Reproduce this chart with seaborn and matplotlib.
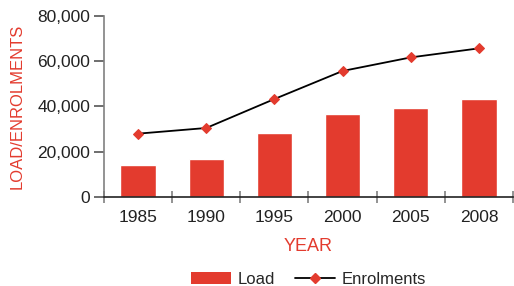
import numpy as np
import matplotlib
matplotlib.use("Agg")
import matplotlib.pyplot as plt
from matplotlib.patches import Patch
from matplotlib.lines import Line2D
from matplotlib.ticker import FuncFormatter
import seaborn as sns

# data
years = ["1985", "1990", "1995", "2000", "2005", "2008"]
load = [14100, 16800, 28300, 36700, 39300, 43300]
enrolments = [28000, 30500, 43300, 55700, 61700, 65700]

RED = "#e33b2e"

sns.set_style("white")
plt.rcParams["font.family"] = ["Liberation Sans", "DejaVu Sans"]

fig = plt.figure(figsize=(5.14, 2.86), dpi=100)
ax = fig.add_axes([104 / 514, 1 - 197 / 286, 409 / 514, 181 / 286])

pos = np.arange(len(years))
sns.barplot(x=pos, y=load, color=RED, width=0.52, saturation=1, ax=ax)
sns.lineplot(x=pos, y=enrolments, color="black", lw=1.3, marker="D",
             markersize=5.5, markerfacecolor=RED, markeredgecolor=RED, ax=ax)

ax.set_xlim(-0.5, len(years) - 0.5)
ax.set_ylim(0, 80000)
ax.set_yticks([0, 20000, 40000, 60000, 80000])
ax.yaxis.set_major_formatter(FuncFormatter(lambda v, _: f"{int(v):,}"))
ax.set_xticks(pos)
ax.set_xticklabels(years)
ax.set_xticks(np.arange(-0.5, len(years)), minor=True)

for s in ["top", "right"]:
    ax.spines[s].set_visible(False)
ax.spines["left"].set_color("#808080")
ax.spines["left"].set_linewidth(1.2)
ax.spines["bottom"].set_color("#222222")
ax.spines["bottom"].set_linewidth(1.2)

ax.tick_params(axis="y", which="major", length=7, width=1.2, color="#555555",
               direction="out", labelsize=12.5, labelcolor="#222222", left=True, pad=3)
ax.tick_params(axis="x", which="major", length=0, labelsize=12.5,
               labelcolor="#222222", pad=9)
ax.tick_params(axis="x", which="minor", length=9, width=1.2, color="#808080",
               direction="inout", bottom=True)

ax.set_xlabel("YEAR", color=RED, fontsize=13, labelpad=10)
ax.set_ylabel("LOAD/ENROLMENTS", color=RED, fontsize=12)
ax.yaxis.set_label_coords(-0.195, 0.5)

handles = [
    Patch(facecolor=RED, edgecolor="none", label="Load"),
    Line2D([0], [0], color="black", lw=1.3, marker="D", markersize=5.5,
           markerfacecolor=RED, markeredgecolor=RED, label="Enrolments"),
]
fig.legend(handles=handles, loc="lower center", bbox_to_anchor=(0.6, -0.055),
           ncol=2, frameon=False, fontsize=12, handlelength=2.4,
           columnspacing=1.2, handletextpad=0.4)

fig.savefig("out.png", dpi=100)
